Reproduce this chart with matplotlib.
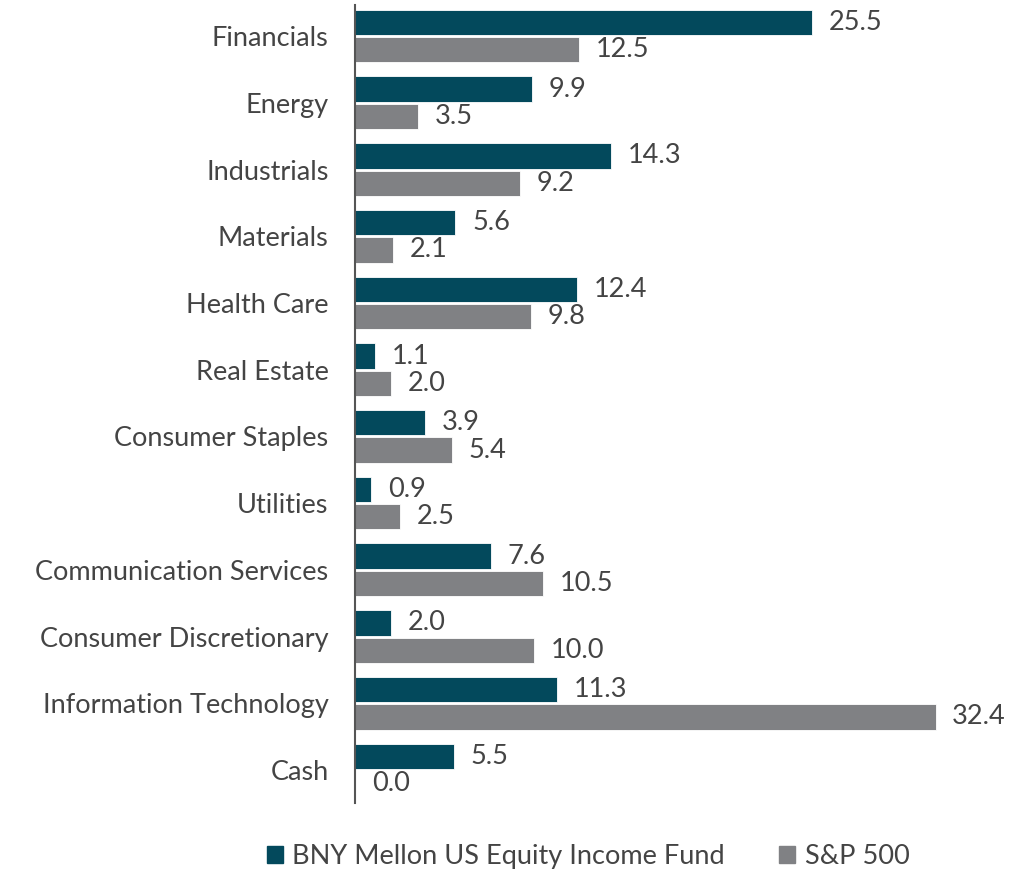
import matplotlib
matplotlib.use("Agg")
import matplotlib.pyplot as plt
import matplotlib.patches as mpatches
import numpy as np

# sector weights (%)
sectors = ["Financials", "Energy", "Industrials", "Materials", "Health Care",
           "Real Estate", "Consumer Staples", "Utilities",
           "Communication Services", "Consumer Discretionary",
           "Information Technology", "Cash"]
fund = [25.5, 9.9, 14.3, 5.6, 12.4, 1.1, 3.9, 0.9, 7.6, 2.0, 11.3, 5.5]
sp500 = [12.5, 3.5, 9.2, 2.1, 9.8, 2.0, 5.4, 2.5, 10.5, 10.0, 32.4, 0.0]
series_names = ["BNY Mellon US Equity Income Fund", "S&P 500"]

fund_color = "#03495c"
sp_color = "#808184"
text_color = "#444444"
fs = 19.5

plt.rcParams["font.family"] = ["Lato", "DejaVu Sans"]

fig = plt.figure(figsize=(10.21, 8.69), dpi=100)
ax = fig.add_axes([0.3477, 0.0759, 0.6423, 0.9183])

y = np.arange(len(sectors))
h = 0.38
off = 0.205
b1 = ax.barh(y - off, fund, height=h, color=fund_color, edgecolor="white", linewidth=0.6)
b2 = ax.barh(y + off, sp500, height=h, color=sp_color, edgecolor="white", linewidth=0.6)

for bars, vals in ((b1, fund), (b2, sp500)):
    for bar, v in zip(bars, vals):
        ax.annotate(f"{v:.1f}", (v, bar.get_y() + bar.get_height() / 2),
                    xytext=(12, 0), textcoords="offset points",
                    va="center", ha="left", fontsize=fs, color=text_color)

ax.set_xlim(0, 36.6)
ax.set_ylim(11.495, -0.465)
ax.set_yticks(y)
ax.set_yticklabels(sectors, fontsize=fs, color=text_color)
ax.tick_params(axis="y", length=0, pad=19)
ax.set_xticks([])
for s in ["top", "right", "bottom"]:
    ax.spines[s].set_visible(False)
ax.spines["left"].set_color("#555555")
ax.spines["left"].set_linewidth(1.5)

handles = [mpatches.Patch(color=fund_color, label=series_names[0]),
           mpatches.Patch(color=sp_color, label=series_names[1])]
leg = fig.legend(handles=handles, loc="center", bbox_to_anchor=(0.576, 0.014),
                 ncol=2, frameon=False, fontsize=fs, handlelength=0.6,
                 handleheight=0.6, handletextpad=0.35, columnspacing=2.0)
for t in leg.get_texts():
    t.set_color(text_color)

fig.savefig("out.png", dpi=100)
